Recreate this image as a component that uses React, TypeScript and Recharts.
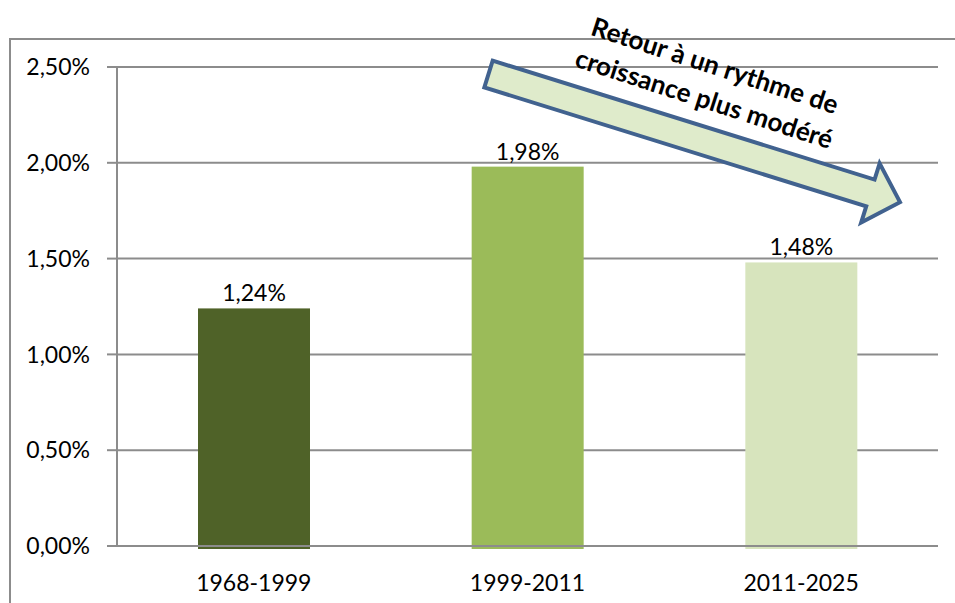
import { BarChart, Bar, XAxis, YAxis, CartesianGrid, LabelList } from 'recharts'

// periods and average annual growth rate
const periods = ['1968-1999', '1999-2011', '2011-2025']
const growth = [0.0124, 0.0198, 0.0148]
const barColors = ['#4F6228', '#9BBB59', '#D7E4BD']
const yTicks = [0, 0.005, 0.01, 0.015, 0.02, 0.025]
const edgeTicks = [0, 1, 2, 3]
const arrowLines = ['Retour à un rythme de', 'croissance plus modéré']

const data = periods.map((p, i) => ({ period: p, value: growth[i], edge: i + 0.5 }))

const FONT = 'Lato, "Liberation Sans", sans-serif'
const GRID = '#8c8c8c'

const pct = (v: number) => (v * 100).toFixed(2).replace('.', ',') + '%'

// bars in the original sit a few px over the axis line
const BarShape = (p: any) => (
  <rect x={p.x} y={p.y} width={p.width} height={p.height + 3} fill={barColors[p.index]} />
)

export default function App() {
  return (
    <div style={{ position: 'absolute', left: 0, top: 0, width: 955, height: 603, overflow: 'hidden', background: '#fff' }}>
      <div
        style={{
          position: 'absolute',
          left: 9,
          top: 38,
          width: 1000,
          height: 700,
          border: `2px solid ${GRID}`,
        }}
      />
      <div style={{ position: 'absolute', left: 0, top: 0 }}>
        <BarChart width={955} height={603} data={data} margin={{ top: 67, right: 17, bottom: 17, left: 17 }}>
          <CartesianGrid vertical={false} stroke={GRID} strokeWidth={2} />
          <XAxis
            xAxisId="edge"
            type="number"
            dataKey="edge"
            domain={[0, 3]}
            ticks={edgeTicks}
            allowDataOverflow
            tick={false}
            axisLine={false}
            tickLine={{ stroke: GRID, strokeWidth: 2 }}
            tickSize={7}
            height={0}
          />
          <XAxis
            xAxisId="cat"
            dataKey="period"
            height={40}
            tickLine={false}
            axisLine={{ stroke: GRID, strokeWidth: 2 }}
            tickSize={6}
            tickMargin={23}
            tick={{ fill: '#000', fontSize: 23, fontFamily: FONT }}
          />
          <YAxis
            width={100}
            domain={[0, 0.025]}
            ticks={yTicks}
            tickFormatter={pct}
            axisLine={{ stroke: GRID, strokeWidth: 2 }}
            tickLine={{ stroke: GRID, strokeWidth: 2 }}
            tickSize={10}
            tickMargin={17}
            tick={{ fill: '#000', fontSize: 23, fontFamily: FONT }}
          />
          <Bar xAxisId="cat" dataKey="value" barSize={112} shape={BarShape} isAnimationActive={false}>
            <LabelList
              dataKey="value"
              position="top"
              offset={7}
              formatter={(v: any) => pct(Number(v))}
              style={{ fill: '#000', fontSize: 23, fontFamily: FONT }}
            />
          </Bar>
        </BarChart>
      </div>
      <svg width={955} height={603} style={{ position: 'absolute', left: 0, top: 0 }}>
        <g transform="translate(488.5 74) rotate(17.3)">
          <polygon
            points="0,-14 400,-14 400,-31 431,0 400,31 400,14 0,14"
            fill="#DFEBCB"
            stroke="#41628F"
            strokeWidth={4}
            strokeLinejoin="miter"
          />
        </g>
        <g transform="translate(710 81) rotate(18)">
          {arrowLines.map((t, i) => (
            <text
              key={t}
              x={0}
              y={i === 0 ? -17 : 18}
              textAnchor="middle"
              dominantBaseline="central"
              fontFamily={FONT}
              fontWeight="bold"
              fontSize={26}
              fill="#000"
            >
              {t}
            </text>
          ))}
        </g>
      </svg>
    </div>
  )
}
